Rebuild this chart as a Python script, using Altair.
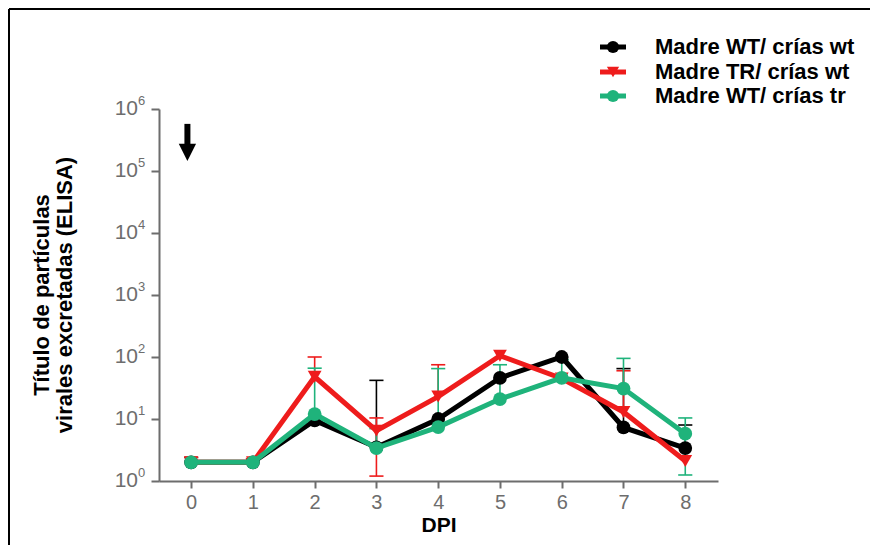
import altair as alt
import pandas as pd

FONT = "Liberation Sans"
GRAY = "#6d6d6d"

dpi = [0, 1, 2, 3, 4, 5, 6, 7, 8]
series_names = ["Madre WT/ crías wt", "Madre TR/ crías wt", "Madre WT/ crías tr"]
series_colors = ["#000000", "#ee1c1c", "#1fb37b"]
series_shapes = ["circle", "triangle-down", "circle"]

black_vals = [2, 2, 9.5, 3.5, 10, 46, 100, 7.3, 3.4]
red_vals = [2, 2, 48, 6.5, 23, 105, 45, 13, 2.1]
green_vals = [2, 2, 12, 3.4, 7.4, 21, 46, 31, 5.8]

# error bar ends (None = not drawn)
black_upper = [2.4, None, None, 42, None, None, None, 65, 8]
black_lower = [None] * 9
red_upper = [2.4, 2.3, 100, 10.4, 75, None, None, 60, None]
red_lower = [None, None, None, 1.2, None, None, None, None, None]
green_upper = [None, None, 66, 7, 65, 75, 90, 95, 10.4]
green_lower = [None, None, None, None, None, None, None, None, 1.25]

y_exponents = [0, 1, 2, 3, 4, 5, 6]
x_ticks = [0, 1, 2, 3, 4, 5, 6, 7, 8]

values_all = [black_vals, red_vals, green_vals]
uppers = [black_upper, red_upper, green_upper]
lowers = [black_lower, red_lower, green_lower]

W, H = 559, 372
xscale = alt.Scale(domain=[-0.52, 8.53], nice=False, zero=False)
yscale = alt.Scale(type="log", domain=[1, 1e6], nice=False)

xaxis = alt.Axis(values=x_ticks, title="DPI", titleFont=FONT, titleFontSize=21,
                 titleFontWeight="bold", titleColor="black", titlePadding=2,
                 labelFont=FONT, labelFontSize=20, labelColor=GRAY, labelPadding=4,
                 tickSize=7, tickWidth=2, tickColor=GRAY, domainColor=GRAY,
                 domainWidth=2, grid=False, format="d")
yaxis = alt.Axis(values=[10 ** e for e in y_exponents], labels=False, title=None,
                 tickSize=8, tickWidth=2, tickColor=GRAY, domainColor=GRAY,
                 domainWidth=2, grid=False)

one = pd.DataFrame({"a": [0]})
layers = []

# frame lines (left and top)
layers.append(alt.Chart(one).mark_rule(color="black", strokeWidth=2).encode(
    x=alt.value(-150), y=alt.value(-100), y2=alt.value(436)))
layers.append(alt.Chart(one).mark_rule(color="black", strokeWidth=2).encode(
    x=alt.value(-150), x2=alt.value(711), y=alt.value(-100)))

# axes holder
base_df = pd.DataFrame({"x": dpi, "y": black_vals})
layers.append(alt.Chart(base_df).mark_point(opacity=0).encode(
    x=alt.X("x:Q", scale=xscale, axis=xaxis),
    y=alt.Y("y:Q", scale=yscale, axis=yaxis)))

# y labels 10^n
ylab = pd.DataFrame({"v": [10 ** e for e in y_exponents],
                     "base": ["10"] * len(y_exponents),
                     "exp": [str(e) for e in y_exponents]})
layers.append(alt.Chart(ylab).mark_text(font=FONT, fontSize=21, color=GRAY,
                                         align="right", baseline="middle").encode(
    x=alt.value(-21), y=alt.Y("v:Q", scale=yscale), text="base:N"))
layers.append(alt.Chart(ylab).mark_text(font=FONT, fontSize=13, color=GRAY,
                                         align="left", baseline="middle", dy=-8).encode(
    x=alt.value(-21), y=alt.Y("v:Q", scale=yscale), text="exp:N"))

# y title
layers.append(alt.Chart(one).mark_text(
    text="Título de partículas\nvirales excretadas (ELISA)", lineBreak="\n",
    font=FONT, fontSize=22, fontWeight="bold", color="black", angle=270,
    align="center", baseline="middle", lineHeight=23).encode(
    x=alt.value(-117), y=alt.value(186)))

# arrow at DPI 0
arrow_df = pd.DataFrame({"x": [-0.06], "y1": [10 ** 5.76], "y2": [10 ** 5.40], "yh": [10 ** 5.30]})
layers.append(alt.Chart(arrow_df).mark_rule(color="black", strokeWidth=6).encode(
    x=alt.X("x:Q", scale=xscale), y=alt.Y("y1:Q", scale=yscale), y2="y2:Q"))
layers.append(alt.Chart(arrow_df).mark_point(shape="M-1,-1L1,-1L0,1Z", filled=True,
                                              color="black", opacity=1, size=300).encode(
    x=alt.X("x:Q", scale=xscale), y=alt.Y("yh:Q", scale=yscale)))

# error bars
for name, col, vals, up, lo in zip(series_names, series_colors, values_all, uppers, lowers):
    rows = []
    for d, v, u, l in zip(dpi, vals, up, lo):
        if u is not None:
            rows.append({"x": d, "a": v, "b": u})
        if l is not None:
            rows.append({"x": d, "a": v, "b": l})
    if not rows:
        continue
    edf = pd.DataFrame(rows)
    layers.append(alt.Chart(edf).mark_rule(color=col, strokeWidth=1.6).encode(
        x=alt.X("x:Q", scale=xscale), y=alt.Y("a:Q", scale=yscale), y2="b:Q"))
    layers.append(alt.Chart(edf).mark_point(shape="M-1,0L1,0", filled=False, color=col,
                                            strokeWidth=1.6, opacity=1, size=200).encode(
        x=alt.X("x:Q", scale=xscale), y=alt.Y("b:Q", scale=yscale)))

# lines and markers
for name, col, shp, vals in zip(series_names, series_colors, series_shapes, values_all):
    sdf = pd.DataFrame({"x": dpi, "y": vals})
    layers.append(alt.Chart(sdf).mark_line(color=col, strokeWidth=5).encode(
        x=alt.X("x:Q", scale=xscale), y=alt.Y("y:Q", scale=yscale)))
    layers.append(alt.Chart(sdf).mark_point(shape=shp, filled=True, color=col,
                                            opacity=1, size=190).encode(
        x=alt.X("x:Q", scale=xscale), y=alt.Y("y:Q", scale=yscale)))

# legend
legend_y = [-62, -37, -13]
for name, col, shp, ly in zip(series_names, series_colors, series_shapes, legend_y):
    ldf = pd.DataFrame({"name": [name]})
    layers.append(alt.Chart(ldf).mark_rule(color=col, strokeWidth=5).encode(
        x=alt.value(441), x2=alt.value(467), y=alt.value(ly)))
    layers.append(alt.Chart(ldf).mark_point(shape=shp, filled=True, color=col,
                                            opacity=1, size=150).encode(
        x=alt.value(454), y=alt.value(ly)))
    layers.append(alt.Chart(ldf).mark_text(font=FONT, fontSize=22, fontWeight="bold",
                                           color="black", align="left",
                                           baseline="middle").encode(
        x=alt.value(496), y=alt.value(ly), text="name:N"))

chart = alt.layer(*layers).properties(
    width=W, height=H, padding=0, background="white"
).configure_view(strokeWidth=0, stroke=None)

chart.save("out.html", embed_options={"renderer": "svg", "actions": False})
